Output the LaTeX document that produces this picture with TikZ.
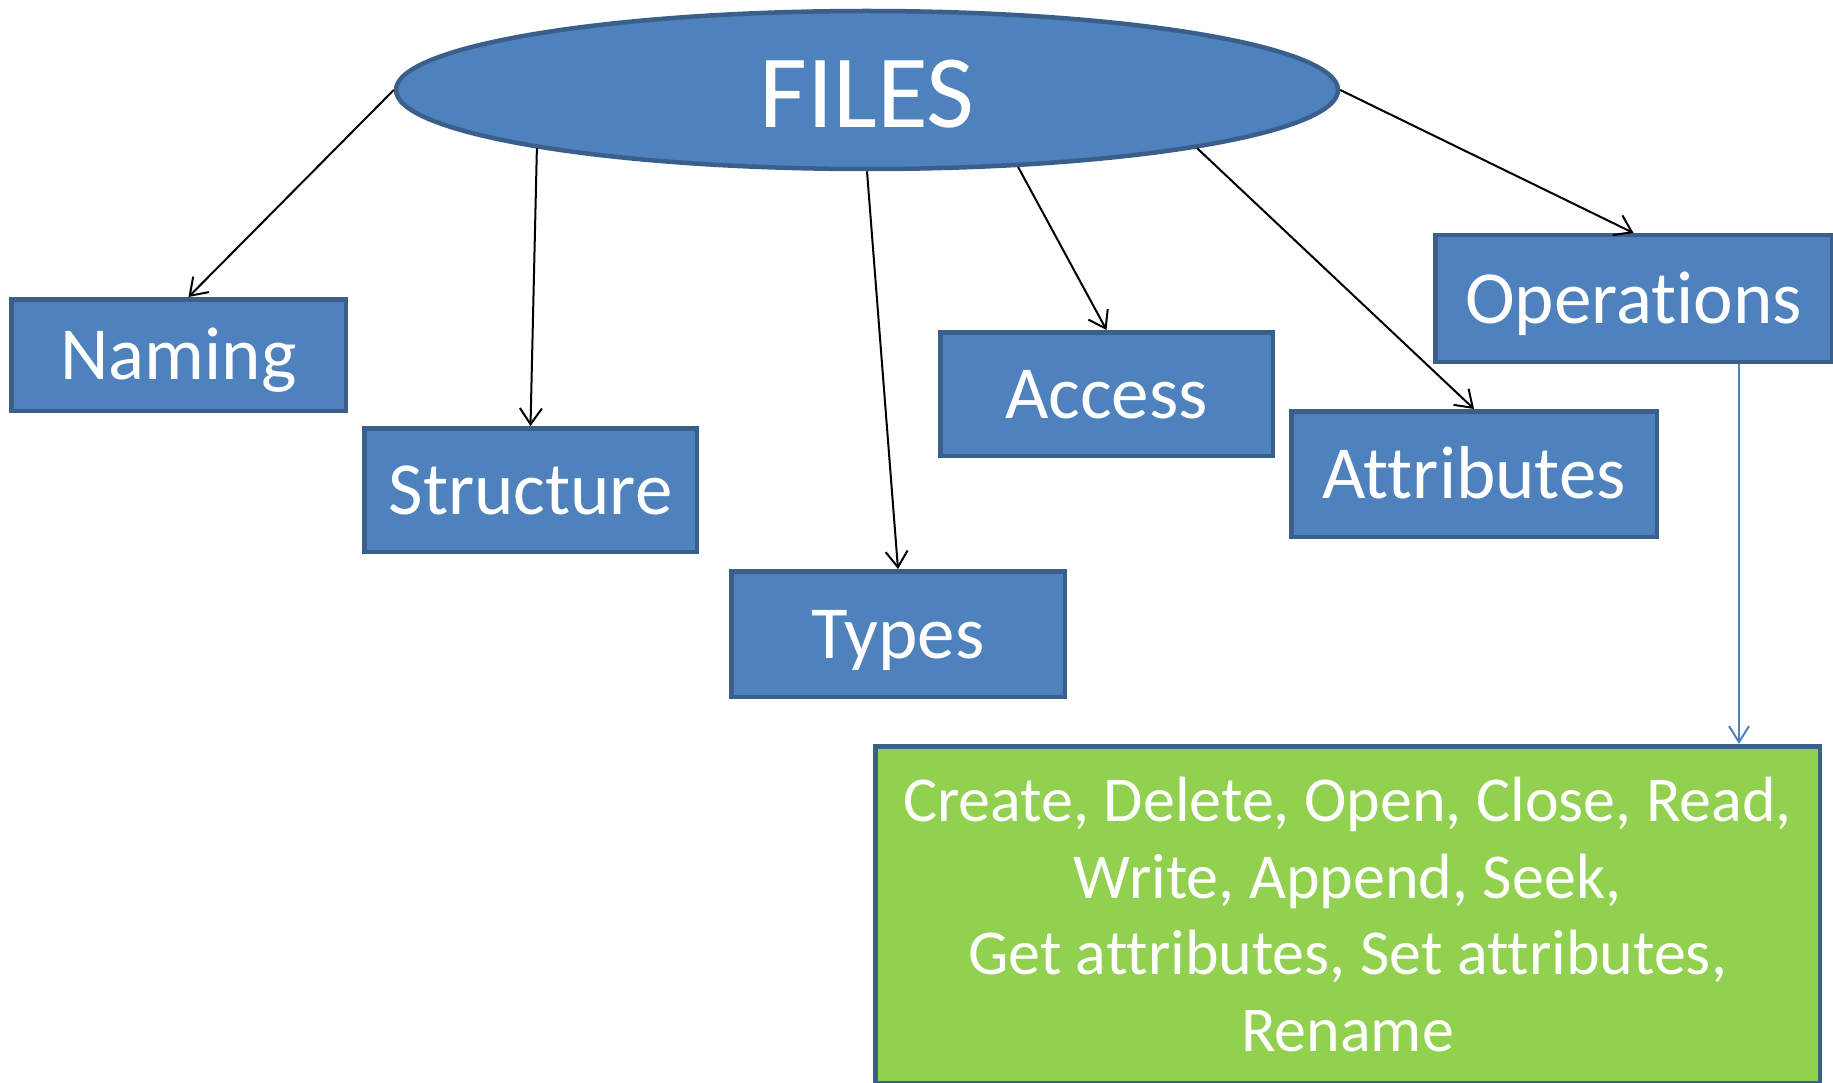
\documentclass[tikz,border=0pt]{standalone}
\usepackage{fontspec}
\setmainfont[Ligatures=NoCommon]{Carlito}
\usetikzlibrary{arrows.meta,shapes.geometric,calc}
\definecolor{boxfill}{HTML}{4F81BD}
\definecolor{boxline}{HTML}{3A5F8B}
\definecolor{listfill}{HTML}{92D050}
\begin{document}
\begin{tikzpicture}[x=1pt,y=-1pt,
  topic/.style={draw=boxline, line width=4.5pt, fill=boxfill, text=white,
    font=\fontsize{75}{90}\selectfont, inner sep=0pt,
    text height=60pt, text depth=11pt},
  link/.style={line width=2pt, -{Straight Barb[length=16pt,width=22pt]}},
  oplink/.style={draw=boxfill, line width=2pt, -{Straight Barb[length=16pt,width=20pt]}},
]
\useasboundingbox (0,0) rectangle (1833,1083);

% central concept
\node[ellipse, draw=boxline, line width=4.5pt, fill=boxfill, text=white,
  minimum width=942pt, minimum height=158pt, inner sep=0pt,
  text height=90pt, text depth=15pt,
  font=\fontsize{104}{120}\selectfont] (files) at (867,90) {FILES};

% sub-topics
\node[topic, minimum width=334.5pt, minimum height=111.5pt] (naming) at (178.5,355) {Naming};
\node[topic, minimum width=332.5pt, minimum height=123.5pt] (structure) at (530.5,490) {Structure};
\node[topic, minimum width=333.5pt, minimum height=125.5pt] (types) at (898,634) {Types};
\node[topic, minimum width=332.5pt, minimum height=123.5pt] (access) at (1106.5,394) {Access};
\node[topic, minimum width=365.5pt, minimum height=125.5pt] (attributes) at (1474,474) {Attributes};
\node[topic, minimum width=396.5pt, minimum height=126.5pt] (operations) at (1633.5,298.5) {Operations};

% list of file operations
\node[topic, fill=listfill, minimum width=944.5pt, minimum height=336.5pt,
  text height=, text depth=, align=center,
  font=\fontsize{64}{76.6}\selectfont] (oplist) at (1347.5,914.5)
  {Create, Delete, Open, Close, Read,\\Write, Append, Seek,\\Get attributes, Set attributes,\\Rename};

% connectors
\draw[link] (files.west) -- ([xshift=10pt]naming.north);
\draw[link] (files.190) -- (structure.north);
\draw[link] (files.south) -- (types.north);
\draw[link] (files.333) -- (access.north);
\draw[link] (files.350) -- (attributes.north);
\draw[link] (files.east) -- (operations.north);
\draw[oplink] ([xshift=105.5pt]operations.south) -- ([xshift=105.5pt]operations.south |- oplist.north);
\end{tikzpicture}
\end{document}
